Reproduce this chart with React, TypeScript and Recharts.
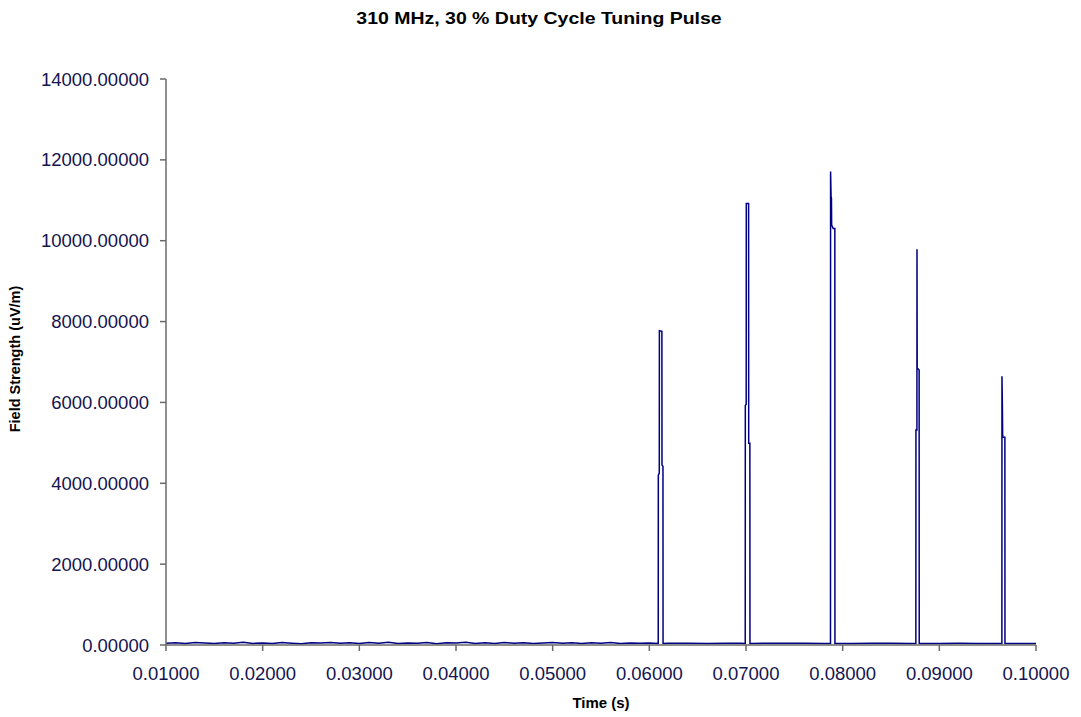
import React from "react";
import { LineChart, Line, XAxis, YAxis } from "recharts";

const TITLE = "310 MHz, 30 % Duty Cycle Tuning Pulse";
const X_LABEL = "Time (s)";
const Y_LABEL = "Field Strength (uV/m)";

const xTicks = [0.01, 0.02, 0.03, 0.04, 0.05, 0.06, 0.07, 0.08, 0.09, 0.1];
const yTicks = [0, 2000, 4000, 6000, 8000, 10000, 12000, 14000];

// baseline noise before the first pulse (0.010 .. 0.060, every 0.001 s)
const baseStart = 0.01;
const baseStep = 0.001;
const baseValues = [
  42, 55, 38, 61, 47, 35, 58, 44, 66, 40,
  52, 37, 60, 45, 33, 57, 49, 63, 41, 54,
  36, 59, 46, 68, 39, 51, 43, 62, 34, 56,
  48, 65, 40, 53, 38, 60, 44, 57, 35, 50,
  62, 41, 55, 37, 58, 46, 64, 39, 52, 43,
  48,
];

// baseline between / after pulses
const gapTimes = [
  0.062, 0.064, 0.066, 0.068, 0.0695,
  0.072, 0.074, 0.076, 0.078, 0.0786,
  0.081, 0.083, 0.085, 0.087, 0.0875,
  0.09, 0.092, 0.094, 0.096, 0.0964,
  0.0985, 0.1,
];
const gapValues = [
  42, 45, 40, 44, 42,
  44, 41, 43, 40, 40,
  40, 42, 41, 40, 40,
  40, 41, 40, 40, 40,
  40, 40,
];

const pulse1T = [0.06092, 0.06093, 0.06103, 0.06104, 0.0613, 0.06131, 0.06141, 0.06142];
const pulse1V = [40, 4200, 4250, 7775, 7760, 4450, 4420, 40];

const pulse2T = [0.06992, 0.06993, 0.07002, 0.07003, 0.07027, 0.07028, 0.0704, 0.07041];
const pulse2V = [40, 5930, 5950, 10920, 10920, 4990, 4990, 40];

const pulse3T = [0.07874, 0.07875, 0.0788, 0.07884, 0.07886, 0.07902, 0.07919, 0.0792];
const pulse3V = [40, 11710, 11090, 11050, 10390, 10300, 10300, 40];

const pulse4T = [0.08757, 0.08758, 0.08768, 0.08769, 0.08771, 0.08791, 0.08792];
const pulse4V = [40, 5320, 5320, 9790, 6850, 6800, 40];

const pulse5T = [0.09647, 0.09648, 0.09652, 0.09655, 0.09657, 0.09678, 0.09679];
const pulse5V = [40, 6650, 5980, 5190, 5140, 5140, 40];

const data = (() => {
  const pts: { t: number; v: number }[] = [];
  baseValues.forEach((v, i) => pts.push({ t: +(baseStart + i * baseStep).toFixed(5), v }));
  gapTimes.forEach((t, i) => pts.push({ t, v: gapValues[i] }));
  const pulses: [number[], number[]][] = [
    [pulse1T, pulse1V],
    [pulse2T, pulse2V],
    [pulse3T, pulse3V],
    [pulse4T, pulse4V],
    [pulse5T, pulse5V],
  ];
  pulses.forEach(([ts, vs]) => ts.forEach((t, i) => pts.push({ t, v: vs[i] })));
  pts.sort((a, b) => a.t - b.t);
  return pts;
})();

const FONT = "'Liberation Sans', Arial, sans-serif";
const tickStyle = { fontSize: 18.5, fill: "#141450", fontFamily: FONT };
const axisColor = "#6a6a6a";

export default function App() {
  return (
    <div style={{ position: "absolute", left: 0, top: 0, width: 1081, height: 717, background: "#fff", fontFamily: FONT }}>
      <LineChart
        width={1081}
        height={717}
        data={data}
        margin={{ top: 79, right: 45, bottom: 32, left: 0 }}
      >
        <XAxis
          dataKey="t"
          type="number"
          domain={[0.01, 0.1]}
          ticks={xTicks}
          allowDataOverflow
          tickFormatter={(v: number) => v.toFixed(5)}
          tick={tickStyle}
          tickSize={6}
          tickMargin={16}
          height={40}
          interval={0}
          stroke={axisColor}
          strokeWidth={1.5}
        />
        <YAxis
          type="number"
          domain={[0, 14000]}
          ticks={yTicks}
          tickFormatter={(v: number) => v.toFixed(5)}
          tick={tickStyle}
          tickSize={6}
          tickMargin={11}
          width={166}
          interval={0}
          stroke={axisColor}
          strokeWidth={1.5}
        />
        <Line
          type="linear"
          dataKey="v"
          stroke="#000080"
          strokeWidth={1.5}
          dot={false}
          isAnimationActive={false}
        />
      </LineChart>
      <div
        style={{
          position: "absolute",
          left: 538.5,
          top: 17.5,
          transform: "translate(-50%, -50%) scaleX(1.18)",
          fontSize: 16.5,
          fontWeight: "bold",
          lineHeight: 1,
          whiteSpace: "nowrap",
          color: "#000",
        }}
      >
        {TITLE}
      </div>
      <div
        style={{
          position: "absolute",
          left: 15,
          top: 359,
          transform: "translate(-50%, -50%) rotate(-90deg)",
          fontSize: 14.5,
          fontWeight: "bold",
          lineHeight: 1,
          whiteSpace: "nowrap",
          color: "#000",
        }}
      >
        {Y_LABEL}
      </div>
      <div
        style={{
          position: "absolute",
          left: 601,
          top: 702,
          transform: "translate(-50%, -50%)",
          fontSize: 15,
          fontWeight: "bold",
          lineHeight: 1,
          whiteSpace: "nowrap",
          color: "#000",
        }}
      >
        {X_LABEL}
      </div>
    </div>
  );
}
